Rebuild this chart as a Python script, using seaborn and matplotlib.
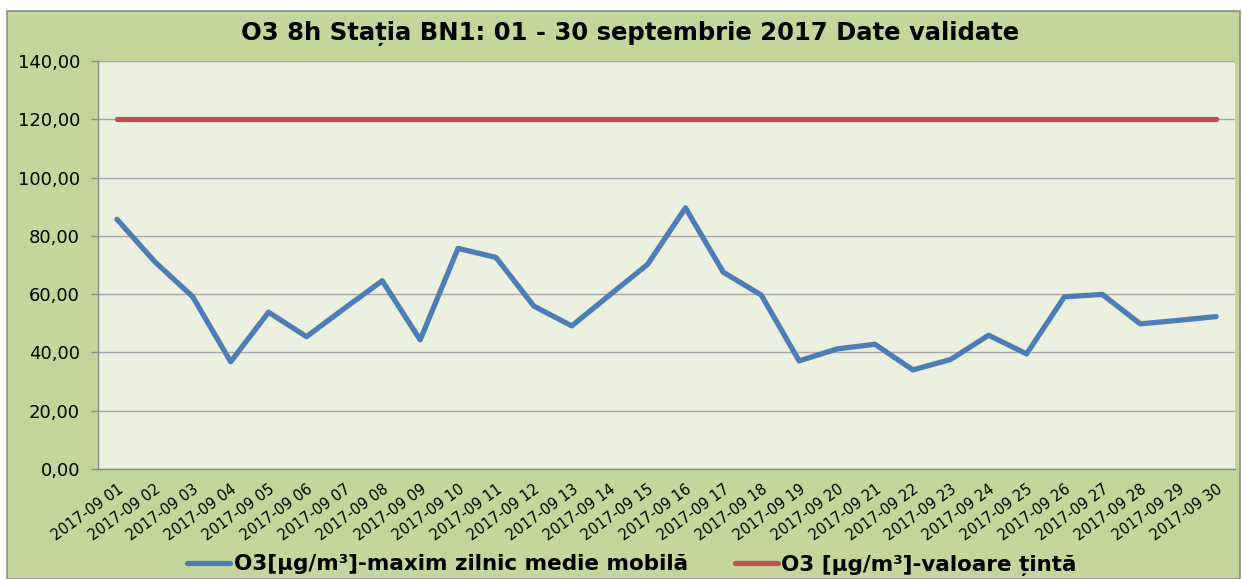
import numpy as np
import pandas as pd
import matplotlib.pyplot as plt
from matplotlib.patches import Rectangle
import seaborn as sns

sns.set_style("white")
plt.rcParams['font.family'] = ['DejaVu Sans']
plt.rcParams['text.color'] = 'black'
plt.rcParams['xtick.color'] = 'black'
plt.rcParams['ytick.color'] = 'black'

days = ["2017-09 %02d" % d for d in range(1, 31)]
o3_max = [85.7, 71.1, 59.1, 36.8, 53.8, 45.4, 55.1, 64.6, 44.3, 75.7,
          72.6, 55.9, 49.1, 59.7, 70.2, 89.6, 67.5, 59.7, 37.1, 41.2,
          42.8, 34.0, 37.6, 45.9, 39.5, 59.1, 59.9, 49.8, 51.0, 52.3]
o3_target = [120.0] * 30

lbl_max = "O3[µg/m³]-maxim zilnic medie mobilă"
lbl_target = "O3 [µg/m³]-valoare țintă"

df = pd.DataFrame({"zi": np.arange(len(days)), lbl_max: o3_max, lbl_target: o3_target})
long = df.melt(id_vars="zi", var_name="serie", value_name="val")

fig = plt.figure(figsize=(12.42, 5.79), dpi=100, facecolor="white")
# green chart panel like Excel
fig.patches.append(Rectangle((7 / 1242, 0), 1240 / 1242 - 7 / 1242, 1 - 11 / 579,
                             transform=fig.transFigure, facecolor="#C4D79B",
                             edgecolor="#8C8C8C", linewidth=1.2, zorder=-5))

ax = fig.add_axes([98 / 1242, 1 - 469 / 579, (1235 - 98) / 1242, (469 - 61) / 579])
ax.set_facecolor("#EBF1DE")

sns.lineplot(data=long, x="zi", y="val", hue="serie", ax=ax,
             palette={lbl_max: "#4A7EBB", lbl_target: "#C0504D"},
             linewidth=3.8, legend=False, solid_capstyle="round", zorder=3)

ax.set_xlim(-0.5, len(days) - 0.5)
ax.set_ylim(0, 140)
ax.set_yticks(np.arange(0, 141, 20))
ax.set_yticklabels(["%d,00" % v for v in range(0, 141, 20)], fontsize=13)
ax.yaxis.grid(True, color="#A6A6A6", linewidth=1.0)
ax.set_axisbelow(True)

ax.set_xticks(np.arange(len(days)))
ax.set_xticklabels(days, rotation=36, ha="right", rotation_mode="anchor", fontsize=10.5)
ax.set_xticks(np.arange(len(days) + 1) - 0.5, minor=True)
ax.tick_params(axis="x", which="major", length=0, pad=9)
ax.tick_params(axis="x", which="minor", length=5, color="#8C8C8C", width=1)
ax.tick_params(axis="y", length=5, color="#8C8C8C", width=1, left=True, pad=8)
ax.set_xlabel("")
ax.set_ylabel("")

for s in ["top", "right"]:
    ax.spines[s].set_visible(False)
for s in ["left", "bottom"]:
    ax.spines[s].set_color("#8C8C8C")
    ax.spines[s].set_linewidth(1)

fig.text(630 / 1242, 1 - 33 / 579, "O3 8h Stația BN1: 01 - 30 septembrie 2017 Date validate",
         ha="center", va="center", fontsize=17.5, fontweight="bold")

handles = [plt.Line2D([], [], color="#4A7EBB", linewidth=3.8),
           plt.Line2D([], [], color="#C0504D", linewidth=3.8)]
fig.legend(handles, [lbl_max, lbl_target], loc="center", ncol=2,
           bbox_to_anchor=(632 / 1242, 1 - 565 / 579), frameon=False,
           prop={"size": 15.5, "weight": "bold"}, handlelength=2.0,
           handletextpad=0.15, columnspacing=2.2)

fig.savefig("out.png", dpi=100, facecolor=fig.get_facecolor())
